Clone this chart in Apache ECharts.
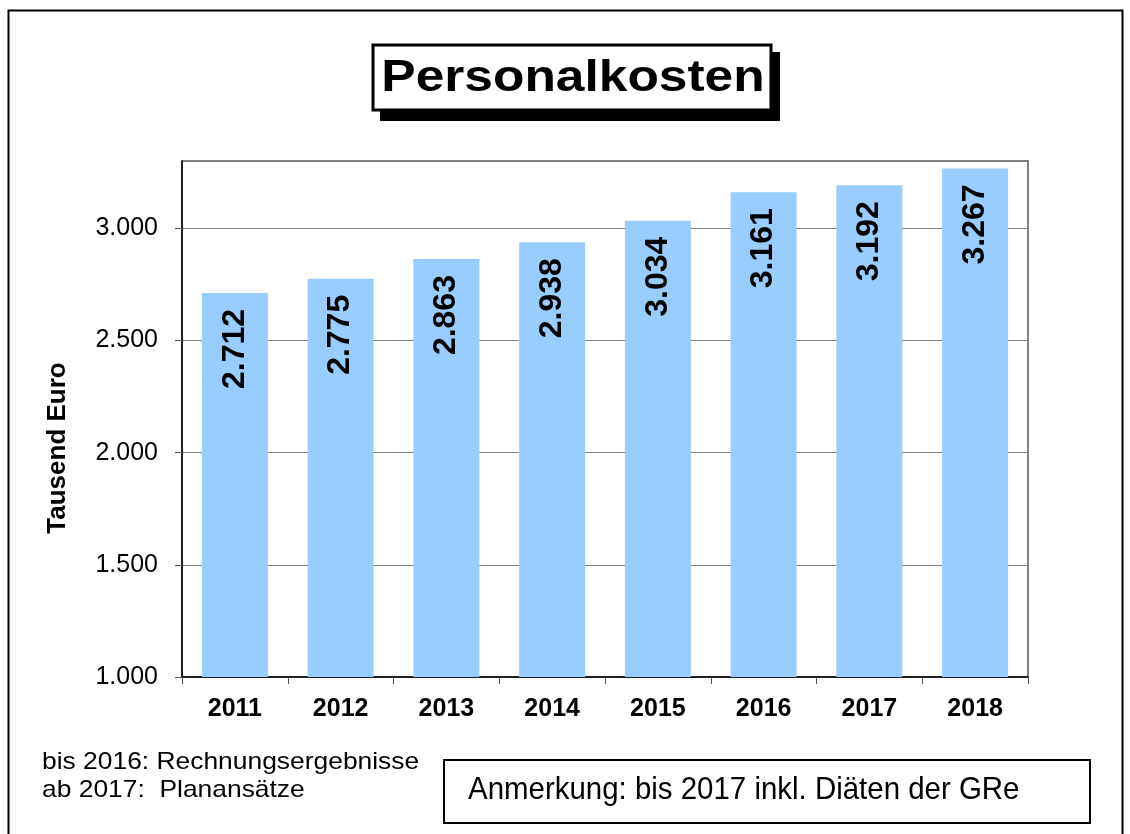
<!DOCTYPE html>
<html>
<head>
<meta charset="utf-8">
<script src="https://cdn.jsdelivr.net/npm/echarts@6/dist/echarts.min.js"></script>
<style>
  html, body { margin: 0; padding: 0; background: #fff; }
  #chart { width: 1130px; height: 834px; }
</style>
</head>
<body>
<div id="chart"></div>
<script>
var years = ['2011', '2012', '2013', '2014', '2015', '2016', '2017', '2018'];
var kosten = [2712, 2775, 2863, 2938, 3034, 3161, 3192, 3267];
var yTicks = [1000, 1500, 2000, 2500, 3000];
var yMin = 1000;
var yMax = 3300;
var yStep = 500;

var fontFam = '"Liberation Sans", Arial, sans-serif';

function deNum(v) {
    // 2712 -> 2.712
    return String(v).replace(/\B(?=(\d{3})+(?!\d))/g, '.');
}

var chart = echarts.init(document.getElementById('chart'));
var option = {
    backgroundColor: '#fff',
    animation: false,
    grid: {
        left: 182,
        right: 102,
        top: 161,
        bottom: 157,
        show: true,
        borderColor: '#808080',
        borderWidth: 2,
        backgroundColor: 'transparent'
    },
    xAxis: {
        type: 'category',
        data: years,
        axisLine: { lineStyle: { color: '#000', width: 1.5 } },
        axisTick: { show: true, length: 7, lineStyle: { color: '#555' } },
        axisLabel: {
            color: '#000',
            fontFamily: fontFam,
            fontWeight: 'bold',
            fontSize: 25,
            margin: 20
        }
    },
    yAxis: {
        type: 'value',
        min: yMin,
        max: yMax,
        interval: yStep,
        axisLine: { show: true, lineStyle: { color: '#000', width: 1.5 } },
        axisTick: { show: true, length: 7, customValues: yTicks, lineStyle: { color: '#555' } },
        axisLabel: {
            color: '#000',
            fontFamily: fontFam,
            fontSize: 25,
            margin: 24,
            customValues: yTicks,
            formatter: function (v) { return deNum(v); }
        },
        splitLine: { show: true, lineStyle: { color: '#808080', width: 1 } }
    },
    series: [{
        type: 'bar',
        data: kosten,
        barWidth: '62.4%',
        itemStyle: { color: '#99CCFF' },
        label: {
            show: true,
            position: 'insideTop',
            rotate: 90,
            align: 'right',
            verticalAlign: 'middle',
            distance: 16,
            color: '#000',
            fontFamily: fontFam,
            fontWeight: 'bold',
            fontSize: 32,
            formatter: function (p) { return deNum(p.value); }
        }
    }],
    graphic: [
        // outer frame
        { type: 'rect', z: 0, shape: { x: 8.5, y: 10.5, width: 1114, height: 840 },
          style: { fill: null, stroke: '#000', lineWidth: 2 } },
        // title box with shadow
        { type: 'rect', z: 10, shape: { x: 380, y: 52, width: 400, height: 69 },
          style: { fill: '#000' } },
        { type: 'rect', z: 11, shape: { x: 373, y: 45, width: 398, height: 65 },
          style: { fill: '#fff', stroke: '#000', lineWidth: 3 } },
        { type: 'text', z: 12, x: 573, y: 79, scaleX: 1.17,
          style: { text: 'Personalkosten', fill: '#000', font: 'bold 44px ' + fontFam,
                   textAlign: 'center', textVerticalAlign: 'middle' } },
        // y axis name
        { type: 'text', z: 12, x: 58, y: 448, rotation: Math.PI / 2,
          style: { text: 'Tausend Euro', fill: '#000', font: 'bold 26px ' + fontFam,
                   textAlign: 'center', textVerticalAlign: 'middle' } },
        // notes bottom left
        { type: 'text', z: 12, x: 42, y: 762, scaleX: 1.1,
          style: { text: 'bis 2016: Rechnungsergebnisse', fill: '#000', font: '24px ' + fontFam,
                   textAlign: 'left', textVerticalAlign: 'middle' } },
        { type: 'text', z: 12, x: 42, y: 790, scaleX: 1.1,
          style: { text: 'ab 2017:  Planansätze', fill: '#000', font: '24px ' + fontFam,
                   textAlign: 'left', textVerticalAlign: 'middle' } },
        // remark box
        { type: 'rect', z: 11, shape: { x: 444, y: 760, width: 646, height: 63 },
          style: { fill: '#fff', stroke: '#000', lineWidth: 2 } },
        { type: 'text', z: 12, x: 468, y: 790, scaleX: 0.92,
          style: { text: 'Anmerkung: bis 2017 inkl. Diäten der GRe', fill: '#000', font: '32px ' + fontFam,
                   textAlign: 'left', textVerticalAlign: 'middle' } }
    ]
};
chart.setOption(option);
</script>
</body>
</html>
